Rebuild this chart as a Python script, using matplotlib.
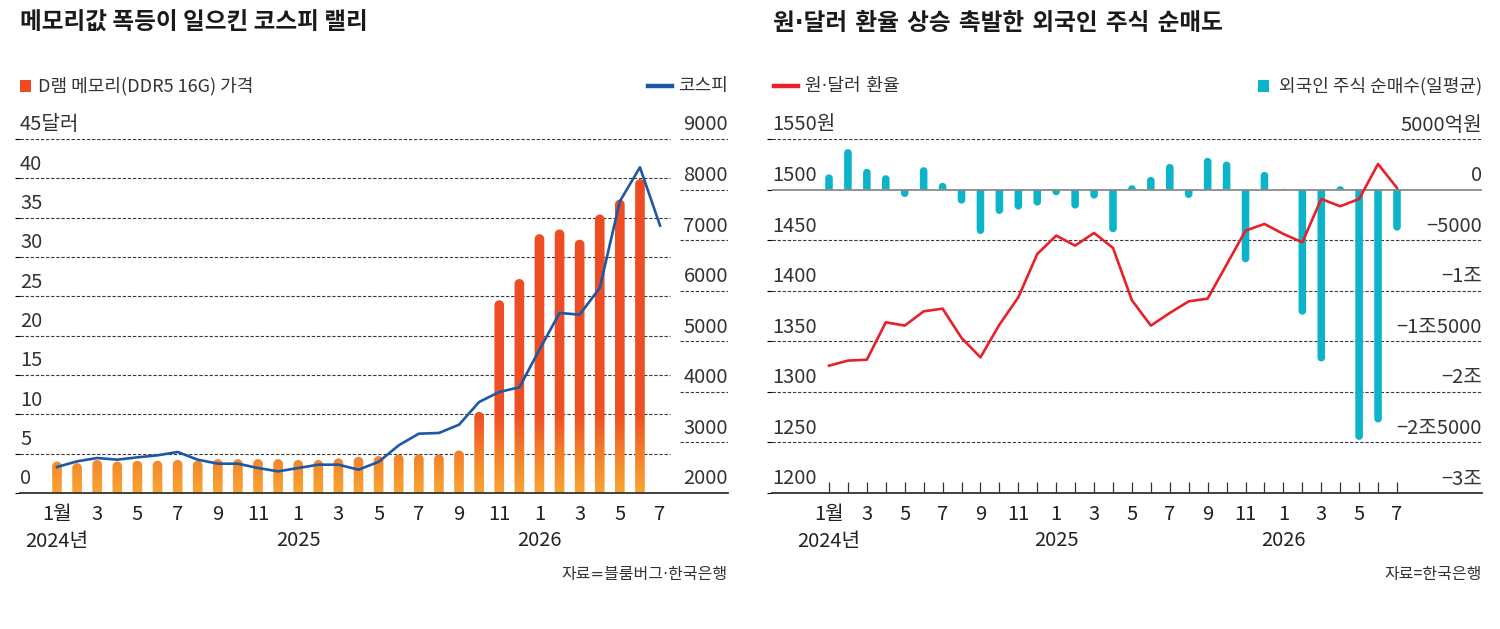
import numpy as np
import matplotlib
matplotlib.use('Agg')
import matplotlib.pyplot as plt
from matplotlib.path import Path
from matplotlib.patches import PathPatch, Rectangle
from matplotlib.colors import LinearSegmentedColormap
from matplotlib.lines import Line2D
from matplotlib.transforms import offset_copy

plt.rcParams['font.family'] = ['Noto Sans CJK KR', 'DejaVu Sans']
# narrow middle dot: take "·" from DejaVu, hangul falls back to Noto
DOT_FONT = ['DejaVu Sans', 'Noto Sans CJK KR']

# ---- data (monthly, Jan 2024 .. Jul 2026) ----
month_labels = ['1월', '3', '5', '7', '9', '11', '1', '3', '5', '7', '9', '11', '1', '3', '5', '7']
year_labels = ['2024년', '2025', '2026']
year_pos = [0, 12, 24]

dram_price = [4.0, 3.8, 4.2, 4.0, 4.1, 4.1, 4.2, 4.1, 4.3, 4.3, 4.3, 4.3, 4.2, 4.2, 4.4,
              4.6, 4.7, 4.9, 4.9, 4.9, 5.4, 10.3, 24.5, 27.2, 32.9, 33.5, 32.2, 35.4, 37.3, 39.9]
kospi = [2514, 2626, 2692, 2659, 2705, 2745, 2811, 2659, 2580, 2580, 2494, 2428, 2494, 2560,
         2560, 2461, 2616, 2943, 3173, 3187, 3351, 3800, 3997, 4090, 4834, 5560, 5527, 6054,
         7768, 8440, 7287]

usd_krw = [1325.9, 1330.9, 1331.8, 1368.8, 1365.5, 1379.6, 1382.3, 1353.3, 1334.1, 1366.4,
           1393.5, 1436.3, 1454.5, 1444.6, 1457.1, 1442.3, 1390.5, 1365.5, 1378.0, 1389.5,
           1392.2, 1425.8, 1459.4, 1466.0, 1456.1, 1447.9, 1490.7, 1483.5, 1490.7, 1525.3, 1501.6]
# 억원
foreign_net = [1500, 4000, 2050, 1420, -730, 2210, 660, -1390, -4390, -2410, -1980, -1580,
               -560, -1880, -890, -4220, 430, 1250, 2540, -830, 3140, 2770, -7190, 1750, 70,
               -12370, -16990, 330, -24750, -23030, -4060]

left_ticks = [0, 5, 10, 15, 20, 25, 30, 35, 40, 45]
left_tick_labels = ['0', '5', '10', '15', '20', '25', '30', '35', '40', '45달러']
kospi_ticks = [2000, 3000, 4000, 5000, 6000, 7000, 8000, 9000]
fx_ticks = [1200, 1250, 1300, 1350, 1400, 1450, 1500, 1550]
fx_tick_labels = ['1200', '1250', '1300', '1350', '1400', '1450', '1500', '1550원']
net_ticks = [-30000, -25000, -20000, -15000, -10000, -5000, 0, 5000]
net_tick_labels = ['−3조', '−2조5000', '−2조', '−1조5000', '−1조', '−5000', '0', '5000억원']

TXT = '#333333'
GRID = '#3a3a3a'
DASH = (0, (3, 1.6))
W, H = 1500, 629
TICK_FS = 14.5

fig = plt.figure(figsize=(15, 6.29), dpi=100)


def fx(px):
    return px / W


def fy(py):
    return 1 - py / H


def bar_path(x, v, w, ry, base=0.0):
    # bar with a rounded far end
    rx = w / 2
    sign = 1 if v >= base else -1
    r = min(ry, abs(v - base))
    c = v - sign * r
    t = np.linspace(np.pi, 0, 18)
    verts = [(x - rx, base)]
    verts += [(x + rx * np.cos(a), c + sign * r * np.sin(a)) for a in t]
    verts += [(x + rx, base), (x - rx, base)]
    codes = [Path.MOVETO] + [Path.LINETO] * (len(verts) - 2) + [Path.CLOSEPOLY]
    return Path(verts, codes)


def clean(ax):
    for s in ax.spines.values():
        s.set_visible(False)
    ax.patch.set_visible(False)
    ax.tick_params(left=False, right=False, labelleft=False, labelright=False)


# ================= left chart =================
x = np.arange(31)
xl = (-1.84, 33.38)
ax1 = fig.add_axes([fx(20), fy(493), fx(728) - fx(20), 354 / H])
clean(ax1)

for v in left_ticks[1:]:
    ax1.hlines(v, xl[0], 30.5, colors=GRID, lw=0.8, linestyles=DASH, zorder=1)

cmap = LinearSegmentedColormap.from_list(
    'dram', [(0, '#F8A433'), (0.09, '#F4872C'), (0.22, '#EE5024'), (1, '#EE4B22')])
paths = [bar_path(i, v, 0.48, 0.61) for i, v in enumerate(dram_price)]
clip = PathPatch(Path.make_compound_path(*paths), transform=ax1.transData,
                 facecolor='none', edgecolor='none')
ax1.add_patch(clip)
grad = np.linspace(0, 1, 256).reshape(-1, 1)
im = ax1.imshow(grad, cmap=cmap, extent=(xl[0], xl[1], 0, 45), origin='lower',
                aspect='auto', zorder=2)
im.set_clip_path(clip)
ax1.set_xlim(*xl)
ax1.set_ylim(0, 45)
ax1.axhline(0, color=TXT, lw=1.3, clip_on=False, zorder=5)

ax1.set_xticks(range(0, 31, 2))
ax1.set_xticklabels(month_labels)
ax1.tick_params(axis='x', length=0, pad=8, labelsize=TICK_FS, labelcolor='#222222', bottom=True)

tr = offset_copy(ax1.get_yaxis_transform(), fig=fig, y=14, units='dots')
for v, s in zip(left_ticks, left_tick_labels):
    ax1.text(0, v, s, transform=tr, ha='left', va='center', fontsize=TICK_FS, color=TXT)
trx = offset_copy(ax1.get_xaxis_transform(), fig=fig, y=-48, units='dots')
for p, s in zip(year_pos, year_labels):
    ax1.text(p, 0, s, transform=trx, ha='center', va='center', fontsize=TICK_FS, color='#222222')

ax1r = ax1.twinx()
clean(ax1r)
ax1r.set_ylim(2000, 9000)
ax1r.plot(x, kospi, color='#1E57A4', lw=1.9, zorder=4)
for v in kospi_ticks[1:]:
    ax1r.hlines(v, 31.0, xl[1], colors=GRID, lw=0.8, linestyles=DASH)
trr = offset_copy(ax1r.get_yaxis_transform(), fig=fig, y=14, units='dots')
for v in kospi_ticks:
    ax1r.text(1, v, str(v), transform=trr, ha='right', va='center', fontsize=TICK_FS, color=TXT)

# ================= right chart =================
xr = (-3.01, 34.49)
ax2 = fig.add_axes([fx(772), fy(493), fx(1482) - fx(772), 354 / H])
clean(ax2)
ax2.set_xlim(*xr)
ax2.set_ylim(-30000, 5000)
for v in net_ticks[1:]:
    if v == 0:
        continue
    ax2.hlines(v, xr[0], xr[1], colors=GRID, lw=0.8, linestyles=DASH, zorder=1)
for i, v in enumerate(foreign_net):
    ax2.add_patch(PathPatch(bar_path(i, v, 0.40, 375), facecolor='#0CB4C9',
                            edgecolor='none', zorder=2))
ax2.axhline(0, color='#8a8a8a', lw=1.3, zorder=3)
ax2.axhline(-30000, color=TXT, lw=1.3, clip_on=False, zorder=5)

ax2.set_xticks(range(31))
ax2.set_xticklabels([month_labels[i // 2] if i % 2 == 0 else '' for i in range(31)])
ax2.tick_params(axis='x', direction='in', length=8, width=0.9, color=TXT, pad=8,
                labelsize=TICK_FS, labelcolor='#222222')

trr2 = offset_copy(ax2.get_yaxis_transform(), fig=fig, y=14, units='dots')
for v, s in zip(net_ticks, net_tick_labels):
    ax2.text(1, v, s, transform=trr2, ha='right', va='center', fontsize=TICK_FS, color=TXT)
trx2 = offset_copy(ax2.get_xaxis_transform(), fig=fig, y=-48, units='dots')
for p, s in zip(year_pos, year_labels):
    ax2.text(p, 0, s, transform=trx2, ha='center', va='center', fontsize=TICK_FS, color='#222222')

ax2t = ax2.twinx()
clean(ax2t)
ax2t.set_ylim(1200, 1550)
ax2t.plot(x, usd_krw, color='#E8202A', lw=1.9, zorder=4)
trl2 = offset_copy(ax2t.get_yaxis_transform(), fig=fig, y=14, units='dots')
for v, s in zip(fx_ticks, fx_tick_labels):
    ax2t.text(0, v, s, transform=trl2, ha='left', va='center', fontsize=TICK_FS, color=TXT)

# ================= titles, legends, sources =================
fig.text(fx(20), fy(23), '메모리값 폭등이 일으킨 코스피 랠리', fontsize=17,
         fontweight='bold', color='#1a1a1a', va='center', ha='left')
fig.text(fx(773), fy(23), '원·달러 환율 상승 촉발한 외국인 주식 순매도', fontsize=17,
         fontweight='bold', color='#1a1a1a', va='center', ha='left', family=DOT_FONT)

fig.add_artist(Rectangle((fx(20), fy(92)), 11 / W, 12 / H, transform=fig.transFigure,
                         facecolor='#EE4B22', edgecolor='none'))
fig.text(fx(38), fy(86), 'D램 메모리(DDR5 16G) 가격', fontsize=13, color=TXT, va='center')
fig.add_artist(Line2D([fx(648), fx(672)], [fy(86), fy(86)], transform=fig.transFigure,
                      color='#1E57A4', lw=3.2))
fig.text(fx(728), fy(86), '코스피', fontsize=13, color=TXT, va='center', ha='right')

fig.add_artist(Line2D([fx(774), fx(798)], [fy(86), fy(86)], transform=fig.transFigure,
                      color='#E8202A', lw=3.2))
fig.text(fx(805), fy(86), '원·달러 환율', fontsize=13, color=TXT, va='center', family=DOT_FONT)
fig.add_artist(Rectangle((fx(1258), fy(92)), 11 / W, 12 / H, transform=fig.transFigure,
                         facecolor='#0CB4C9', edgecolor='none'))
fig.text(fx(1482), fy(86), '외국인 주식 순매수(일평균)', fontsize=13, color=TXT,
         va='center', ha='right')

fig.text(fx(728), fy(575), '자료=블룸버그·한국은행', fontsize=11.5, color=TXT,
         va='center', ha='right', family=DOT_FONT)
fig.text(fx(1482), fy(575), '자료=한국은행', fontsize=11.5, color=TXT,
         va='center', ha='right')

fig.savefig('out.png', dpi=100, facecolor='white')
